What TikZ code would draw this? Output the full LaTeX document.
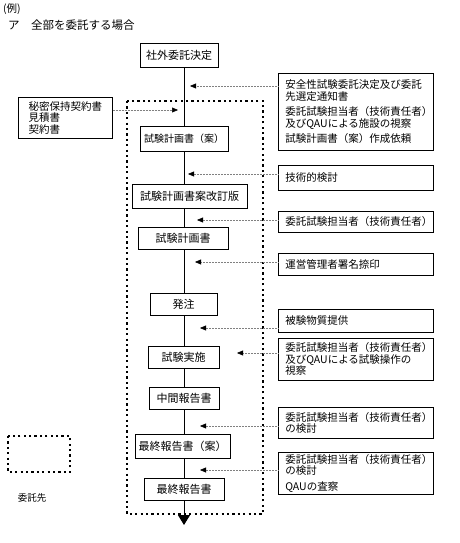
\documentclass[tikz,border=0pt]{standalone}
\usepackage{fontspec}
\usepackage{xcolor}
\usepackage{tikz}
\usetikzlibrary{arrows.meta}
\newfontfamily\jpfont{Noto Sans CJK JP}

\tikzset{
  every node/.style={font=\jpfont\fontsize{10.5}{11.5}\selectfont, inner sep=0pt},
  stepbox/.style={draw, line width=0.6pt, minimum height=22pt, font=\jpfont\fontsize{11}{12}\selectfont},
  notebox/.style={draw, line width=0.6pt, anchor=north west, minimum width=155pt,
    text width=141pt, align=left},
  spine/.style={line width=1pt},
  feed/.style={gray, densely dotted, line width=0.5pt,
    -{Triangle[length=6pt, width=5pt, black]}},
  frame/.style={line width=2.2pt, dash pattern=on 2.2pt off 3.2pt},
}

\begin{document}
\begin{tikzpicture}[x=1pt, y=-1pt]

    \useasboundingbox (0,0) rectangle (459,543);

    % Heading
    \node[anchor=west] (ex) at (3,9) {(例)};
    \node[anchor=west, font=\jpfont\fontsize{11.5}{13}\selectfont] (head) at (8,25) {ア　全部を委託する場合};

    % Main flow (left column)
    \coordinate (spine) at (184,0);
    \node[stepbox, minimum width=78pt, minimum height=24pt] (top) at (179,55) {社外委託決定};
    \node[stepbox, minimum width=88pt, minimum height=25pt, font=\jpfont\fontsize{10}{11}\selectfont] (plan1) at (184,138.5) {試験計画書（案）};
    \node[stepbox, minimum width=115pt, minimum height=24pt] (rev) at (189.5,196) {試験計画書案改訂版};
    \node[stepbox, minimum width=90pt] (plan) at (183,238) {試験計画書};
    \node[stepbox, minimum width=67pt] (order) at (183.5,304) {発注};
    \node[stepbox, minimum width=71pt] (run) at (183.5,357) {試験実施};
    \node[stepbox, minimum width=70pt] (interim) at (184,398) {中間報告書};
    \node[stepbox, minimum width=95pt, minimum height=24pt] (draft) at (182.5,446) {最終報告書（案）};
    \node[stepbox, minimum width=80pt] (final) at (184,489) {最終報告書};
    \coordinate (tail) at (184,525);

    \foreach \a/\b in {top/plan1, plan1/rev, rev/plan, plan/order, order/run,
                       run/interim, interim/draft, draft/final}
        \draw[spine] (\a.south -| spine) -- (\b.north -| spine);
    \draw[spine, -{Triangle[length=10pt, width=12pt]}] (final.south -| spine) -- (tail);

    % Contract documents (left)
    \node[draw, line width=0.6pt, anchor=north west, minimum width=94pt, minimum height=41pt,
          align=left, inner xsep=9pt] (docs) at (18,97) {秘密保持契約書\\見積書\\契約書};
    \coordinate (e0) at (178,110);
    \draw[feed] (e0 -| docs.east) -- (e0);

    % Contractor frame and legend
    \draw[frame] (127,101) rectangle (263,514);
    \draw[frame] (8,436) rectangle (70,472);
    \node[font=\jpfont\fontsize{9.5}{10}\selectfont] (legend) at (32,498) {委託先};

    % Notes (right column)
    \node[notebox, minimum height=77pt] (r1) at (278,73)
        {安全性試験委託決定及び委託\\先選定通知書\\[4pt]委託試験担当者（技術責任者）\\及びQAUによる施設の視察\\[4pt]試験計画書（案）作成依頼};
    \node[notebox, minimum height=25pt] (r2) at (278,165) {技術的検討};
    \node[notebox, minimum height=21pt] (r3) at (278,211) {委託試験担当者（技術責任者）};
    \node[notebox, minimum height=22pt] (r4) at (278,253) {運営管理者署名捺印};
    \node[notebox, minimum height=23pt] (r5) at (278,309) {被験物質提供};
    \node[notebox, minimum height=42pt] (r6) at (278,338)
        {委託試験担当者（技術責任者）\\及びQAUによる試験操作の\\視察};
    \node[notebox, minimum height=31pt] (r7) at (278,407)
        {委託試験担当者（技術責任者）\\の検討};
    \node[notebox, minimum height=42pt] (r8) at (278,452)
        {委託試験担当者（技術責任者）\\の検討\\[4pt]QAUの査察};

    % Inputs to the main flow
    \coordinate (e1) at (190,86);
    \coordinate (e2) at (188,174);
    \coordinate (e3) at (197,220);
    \coordinate (e4) at (195,262);
    \coordinate (e5) at (200,328);
    \coordinate (e6) at (237,353);
    \coordinate (e7) at (200,426);
    \coordinate (e8) at (200,470);
    \foreach \i in {1,...,8}
        \draw[feed] (e\i -| r\i.west) -- (e\i);

\end{tikzpicture}
\end{document}
